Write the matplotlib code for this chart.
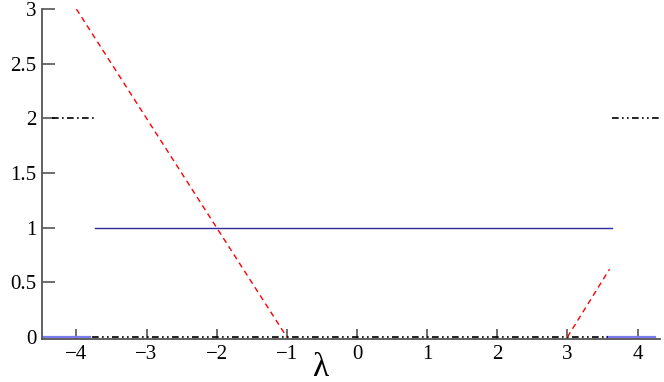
import matplotlib
matplotlib.use("Agg")
import matplotlib.pyplot as plt

# Data segments (lambda, value)
red_left_x = [-4.0, -1.0]
red_left_y = [3.0, 0.0]
red_right_x = [3.0, 3.6]
red_right_y = [0.0, 0.62]

navy_x = [-3.74, 3.64]
navy_y = [1.0, 1.0]

black_top_left_x = [-4.35, -3.72]
black_top_left_y = [2.0, 2.0]
black_top_right_x = [3.64, 4.31]
black_top_right_y = [2.0, 2.0]
black_zero_x = [-3.78, 3.58]
black_zero_y = [0.0, 0.0]

blue_left_x = [-4.49, -3.8]
blue_left_y = [0.0, 0.0]
blue_right_x = [3.56, 4.25]
blue_right_y = [0.0, 0.0]

xticks = [-4, -3, -2, -1, 0, 1, 2, 3, 4]
yticks = [0, 0.5, 1, 1.5, 2, 2.5, 3]
ytick_labels = ["0", "0.5", "1", "1.5", "2", "2.5", "3"]
xtick_labels = ["\u22124", "\u22123", "\u22122", "\u22121", "0", "1", "2", "3", "4"]

serif = 'Liberation Serif'
plt.rcParams['font.family'] = [serif, 'DejaVu Serif']

fig = plt.figure(figsize=(6.64, 3.82), dpi=100)
ax = fig.add_axes([42/664, 43/382, 618/664, 330/382])

ax.plot(blue_left_x, blue_left_y, color='#7b7bf0', lw=1.6)
ax.plot(blue_right_x, blue_right_y, color='#7b7bf0', lw=1.6)
ax.plot(navy_x, navy_y, color='#2a2a9a', lw=1.0)
ax.plot(black_top_left_x, black_top_left_y, color='black', lw=1.2, dashes=(4, 2, 1, 2))
ax.plot(black_top_right_x, black_top_right_y, color='black', lw=1.2, dashes=(4, 2, 1, 2, 1, 2))
ax.plot(black_zero_x, black_zero_y, color='black', lw=1.2, dashes=(4, 2, 1, 2, 1, 2))
ax.plot(red_left_x, red_left_y, color='red', lw=1.0, dashes=(4, 3))
ax.plot(red_right_x, red_right_y, color='red', lw=1.0, dashes=(4, 3))

ax.set_xlim(-4.49, 4.32)
ax.set_ylim(-0.018, 3.0)
ax.set_xticks(xticks)
ax.set_xticklabels(xtick_labels, fontfamily=serif)
ax.set_yticks(yticks)
ax.set_yticklabels(ytick_labels, fontfamily=serif)
ax.tick_params(axis='x', direction='in', length=7, width=1.2, color='#555555', labelsize=15, pad=4)
ax.tick_params(axis='y', direction='in', length=9, width=1.2, color='#555555', labelsize=15, pad=4)
for s in ['top', 'right']:
    ax.spines[s].set_visible(False)
for s in ['left', 'bottom']:
    ax.spines[s].set_color('#555555')
    ax.spines[s].set_linewidth(1.3)
fig.text(320/664, 1 - 368/382, '\u03bb', fontsize=24, ha='center', va='center', fontfamily=serif)

fig.savefig('out.png', dpi=100)
